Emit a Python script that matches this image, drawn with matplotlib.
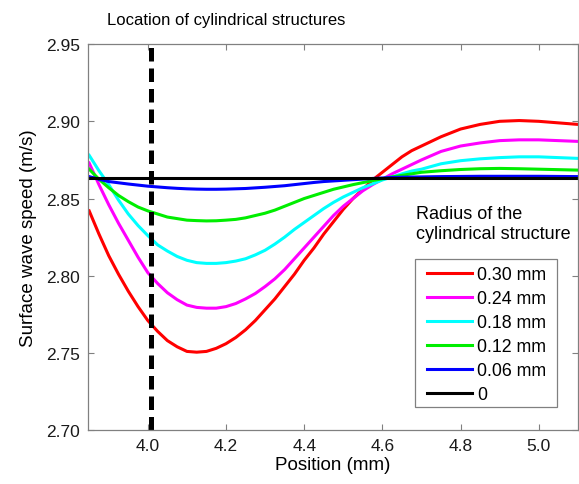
import numpy as np
import matplotlib
matplotlib.use("Agg")
import matplotlib.pyplot as plt
from matplotlib.patches import Rectangle

plt.rcParams["font.family"] = ["Liberation Sans", "DejaVu Sans"]

# posicoes (mm)
pos = [3.850, 3.875, 3.900, 3.925, 3.950, 3.975, 4.000, 4.025, 4.050, 4.075, 4.100, 4.125,
       4.150, 4.175, 4.200, 4.225, 4.250, 4.275, 4.300, 4.325, 4.350, 4.375, 4.400, 4.425,
       4.450, 4.475, 4.500, 4.525, 4.550, 4.575, 4.600, 4.625, 4.650, 4.675, 4.700,
       4.75, 4.80, 4.85, 4.90, 4.95, 5.00, 5.05, 5.10]

v030 = [2.842, 2.827, 2.813, 2.801, 2.790, 2.780, 2.771, 2.764, 2.758, 2.754, 2.751, 2.7505,
        2.751, 2.753, 2.756, 2.760, 2.765, 2.771, 2.778, 2.785, 2.793, 2.801, 2.810, 2.818,
        2.827, 2.835, 2.843, 2.850, 2.856, 2.862, 2.867, 2.872, 2.877, 2.881, 2.884,
        2.890, 2.895, 2.898, 2.900, 2.9005, 2.900, 2.899, 2.898]
v024 = [2.873, 2.859, 2.846, 2.834, 2.823, 2.812, 2.802, 2.795, 2.789, 2.7845, 2.781, 2.7795,
        2.779, 2.779, 2.780, 2.782, 2.785, 2.7885, 2.793, 2.798, 2.804, 2.811, 2.818, 2.825,
        2.832, 2.839, 2.845, 2.850, 2.855, 2.859, 2.8625, 2.866, 2.869, 2.872, 2.875,
        2.8805, 2.884, 2.886, 2.8875, 2.888, 2.888, 2.8875, 2.887]
v018 = [2.878, 2.868, 2.859, 2.849, 2.840, 2.8325, 2.826, 2.820, 2.816, 2.8125, 2.810, 2.8085,
        2.808, 2.808, 2.8085, 2.8095, 2.811, 2.8135, 2.8165, 2.8205, 2.825, 2.830, 2.8345, 2.839,
        2.8435, 2.8475, 2.851, 2.854, 2.857, 2.8595, 2.862, 2.864, 2.866, 2.8678, 2.869,
        2.8725, 2.8745, 2.8757, 2.8765, 2.877, 2.877, 2.8765, 2.876]
v012 = [2.869, 2.8625, 2.857, 2.852, 2.848, 2.8445, 2.842, 2.840, 2.838, 2.837, 2.836, 2.8357,
        2.8355, 2.8356, 2.836, 2.8365, 2.8375, 2.839, 2.8405, 2.8425, 2.845, 2.8475, 2.850, 2.852,
        2.854, 2.856, 2.8575, 2.859, 2.8603, 2.8616, 2.8628, 2.864, 2.865, 2.866, 2.867,
        2.868, 2.8688, 2.8693, 2.8695, 2.8693, 2.869, 2.8687, 2.8684]
v006 = [2.8642, 2.8625, 2.861, 2.8602, 2.8594, 2.8587, 2.858, 2.8575, 2.857, 2.8566, 2.8563, 2.8561,
        2.856, 2.856, 2.8561, 2.8563, 2.8565, 2.8569, 2.8573, 2.8578, 2.8583, 2.859, 2.8597, 2.8604,
        2.861, 2.8614, 2.8618, 2.8622, 2.8626, 2.863, 2.8633, 2.8636, 2.8638, 2.8639, 2.864,
        2.8642, 2.8643, 2.8644, 2.8644, 2.8644, 2.8644, 2.8643, 2.8642]
v000 = [2.8635] * len(pos)

series = [v030, v024, v018, v012, v006, v000]
labels = ["0.30 mm", "0.24 mm", "0.18 mm", "0.12 mm", "0.06 mm", "0"]
colors = ["#ff0000", "#ff00ff", "#00ffff", "#00ee00", "#0000ff", "#000000"]

loc_cil = 4.008

fig = plt.figure(figsize=(5.79, 4.85), dpi=100)
ax = fig.add_axes([0.152, 0.111, 0.846, 0.796])

for y, lab, c in zip(series, labels, colors):
    ax.plot(pos, y, color=c, lw=2.2, label=lab, solid_joinstyle="round")

ax.axvline(loc_cil, color="black", lw=3.6, dashes=(2.7, 1.4))

ax.set_xlim(3.847, 5.1)
ax.set_ylim(2.70, 2.95)
ax.set_xticks([4.0, 4.2, 4.4, 4.6, 4.8, 5.0])
ax.set_yticks([2.70, 2.75, 2.80, 2.85, 2.90, 2.95])
ax.xaxis.set_major_formatter(matplotlib.ticker.FormatStrFormatter("%.1f"))
ax.yaxis.set_major_formatter(matplotlib.ticker.FormatStrFormatter("%.2f"))
ax.tick_params(direction="in", top=True, right=True, length=4, width=0.8,
               color="#808080", labelsize=12.5, labelcolor="#1a1a1a", pad=6)
for s in ax.spines.values():
    s.set_color("#808080")
    s.set_linewidth(0.9)

ax.set_xlabel("Position (mm)", fontsize=13.5, labelpad=2)
ax.set_ylabel("Surface wave speed (m/s)", fontsize=13.5, labelpad=6)

fig.text(0.185, 0.958, "Location of cylindrical structures", fontsize=12, va="center", ha="left")

ax.text(0.669, 0.536, "Radius of the\ncylindrical structure", transform=ax.transAxes,
        fontsize=13, va="center", ha="left", linespacing=1.2)

# moldura da legenda desenhada a parte
caixa = Rectangle((0.667, 0.0596), 0.290, 0.3834, transform=ax.transAxes,
                  facecolor="white", edgecolor="#808080", lw=0.9, zorder=4)
ax.add_patch(caixa)

leg = ax.legend(loc="upper left", bbox_to_anchor=(0.680, 0.442), fontsize=12.8,
                frameon=False, handlelength=2.5, handletextpad=0.3, labelspacing=0.4,
                borderpad=0.35, borderaxespad=0)
leg.set_zorder(5)

plt.savefig("out.png", dpi=100)
